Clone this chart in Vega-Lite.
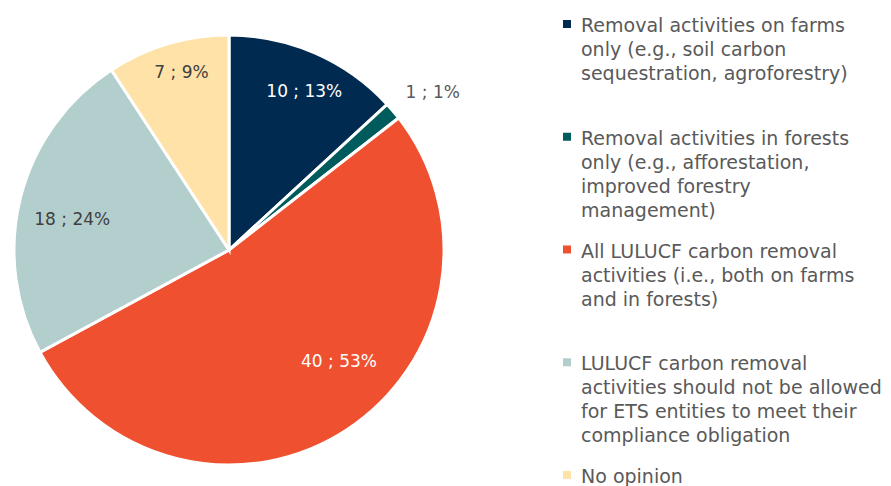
{
  "$schema": "https://vega.github.io/schema/vega-lite/v6.json",
  "padding": 0,
  "background": "white",
  "config": {"view": {"stroke": null}},
  "datasets": {
    "d": [
      {"k": "farms", "idx": 1, "n": 10, "label": "10 ; 13%", "legend": "Removal activities on farms\nonly (e.g., soil carbon\nsequestration, agroforestry)"},
      {"k": "forests", "idx": 2, "n": 1, "label": "1 ; 1%", "legend": "Removal activities in forests\nonly (e.g., afforestation,\nimproved forestry\nmanagement)"},
      {"k": "all", "idx": 3, "n": 40, "label": "40 ; 53%", "legend": "All LULUCF carbon removal\nactivities (i.e., both on farms\nand in forests)"},
      {"k": "none", "idx": 4, "n": 18, "label": "18 ; 24%", "legend": "LULUCF carbon removal\nactivities should not be allowed\nfor ETS entities to meet their\ncompliance obligation"},
      {"k": "noop", "idx": 5, "n": 7, "label": "7 ; 9%", "legend": "No opinion"}
    ]
  },
  "spacing": 100,
  "hconcat": [
    {
      "width": 458,
      "height": 500,
      "data": {"name": "d"},
      "encoding": {
        "theta": {"field": "n", "type": "quantitative", "stack": true},
        "order": {"field": "idx", "type": "quantitative"}
      },
      "layer": [
        {
          "mark": {"type": "arc", "outerRadius": 215, "stroke": "white", "strokeWidth": 3},
          "encoding": {
            "color": {
              "field": "k", "type": "nominal", "legend": null,
              "scale": {"domain": ["farms", "forests", "all", "none", "noop"], "range": ["#002a50", "#005b5c", "#ef5030", "#b3cfcd", "#fee2a8"]}
            }
          }
        },
        {
          "mark": {"type": "text", "radius": 170, "dx": 7, "dy": -2, "fontSize": 17, "font": "DejaVu Sans", "fill": "white"},
          "encoding": {"text": {"condition": {"test": "datum.k == 'farms'", "field": "label"}, "value": ""}}
        },
        {
          "mark": {"type": "text", "radius": 170, "dx": 74, "dy": -47, "fontSize": 17, "font": "DejaVu Sans", "fill": "#595959"},
          "encoding": {"text": {"condition": {"test": "datum.k == 'forests'", "field": "label"}, "value": ""}}
        },
        {
          "mark": {"type": "text", "radius": 170, "dx": 17, "dy": -30, "fontSize": 17, "font": "DejaVu Sans", "fill": "white"},
          "encoding": {"text": {"condition": {"test": "datum.k == 'all'", "field": "label"}, "value": ""}}
        },
        {
          "mark": {"type": "text", "radius": 170, "dx": 8, "dy": 12, "fontSize": 17, "font": "DejaVu Sans", "fill": "#404040"},
          "encoding": {"text": {"condition": {"test": "datum.k == 'none'", "field": "label"}, "value": ""}}
        },
        {
          "mark": {"type": "text", "radius": 170, "dx": 1, "dy": -14, "fontSize": 17, "font": "DejaVu Sans", "fill": "#404040"},
          "encoding": {"text": {"condition": {"test": "datum.k == 'noop'", "field": "label"}, "value": ""}}
        }
      ]
    },
    {
      "spacing": 6,
      "hconcat": [
        {
          "width": 14,
          "height": 499,
          "data": {"name": "d"},
          "mark": {"type": "square", "size": 64, "opacity": 1},
          "encoding": {
            "y": {"field": "k", "type": "nominal", "sort": ["farms", "forests", "all", "none", "noop"], "scale": {"type": "point", "padding": 0.2129}, "axis": null},
            "color": {
              "field": "k", "type": "nominal", "legend": null,
              "scale": {"domain": ["farms", "forests", "all", "none", "noop"], "range": ["#002a50", "#005b5c", "#ef5030", "#b3cfcd", "#fee2a8"]}
            }
          }
        },
        {
          "width": 2,
          "height": 499,
          "data": {"name": "d"},
          "mark": {"type": "text", "align": "left", "baseline": "top", "dy": -7, "lineBreak": "\n", "lineHeight": 24, "fontSize": 19, "font": "DejaVu Sans", "fill": "#595959"},
          "encoding": {
            "y": {"field": "k", "type": "nominal", "sort": ["farms", "forests", "all", "none", "noop"], "scale": {"type": "point", "padding": 0.2129}, "axis": null},
            "text": {"field": "legend"}
          }
        }
      ]
    }
  ]
}
